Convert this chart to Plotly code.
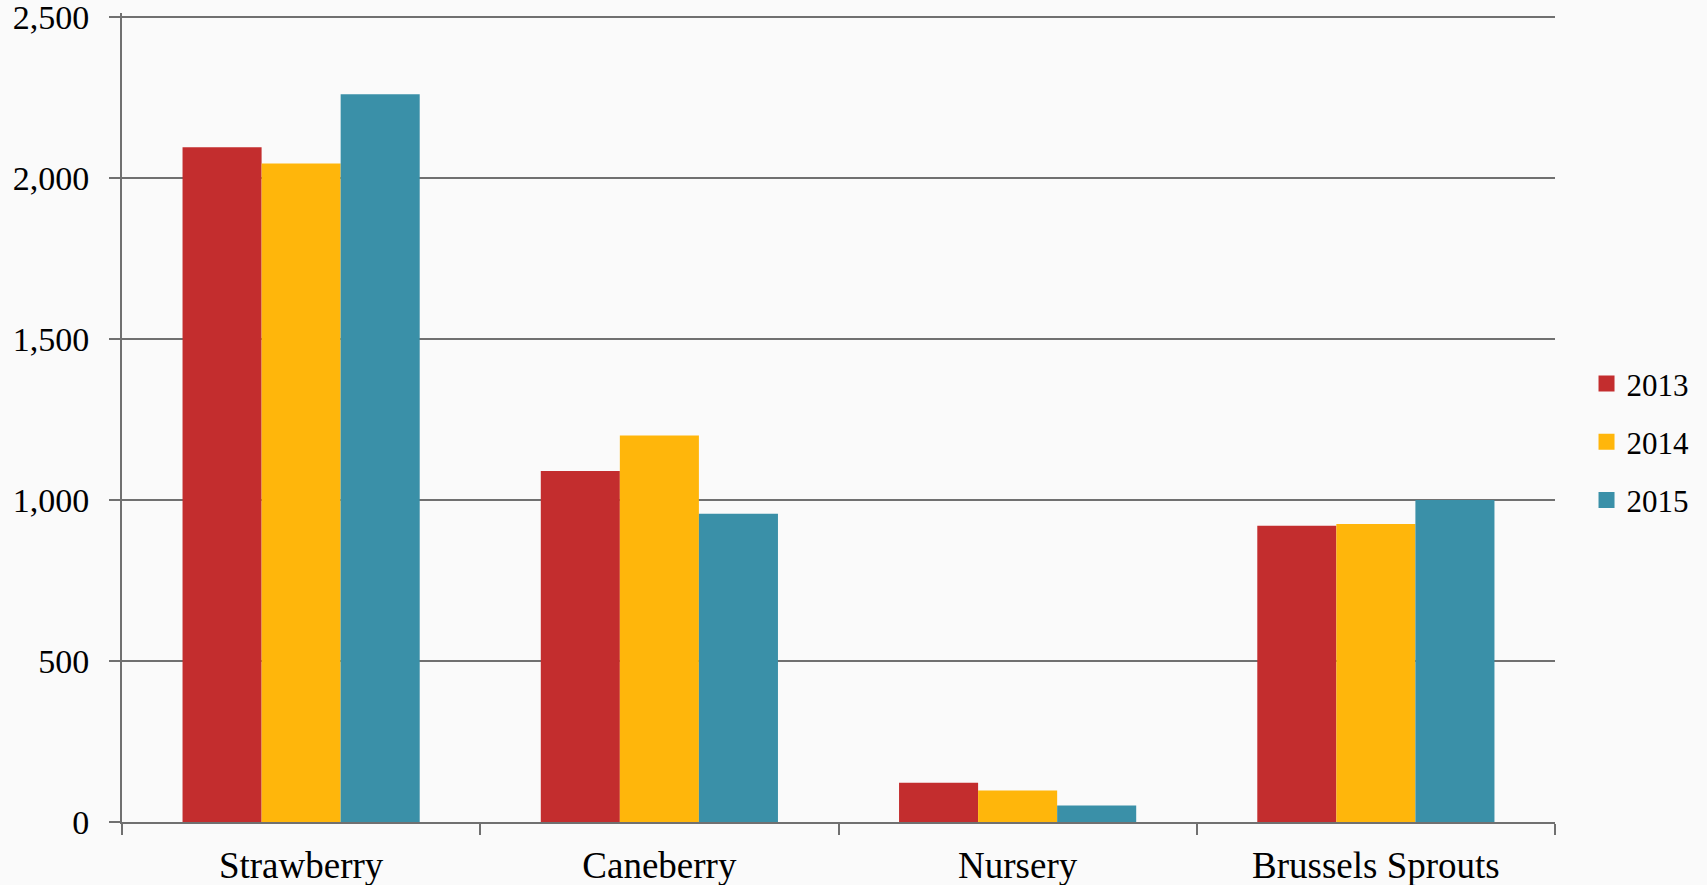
import plotly.graph_objects as go

categories = ["Strawberry", "Caneberry", "Nursery", "Brussels Sprouts"]
years = ["2013", "2014", "2015"]
values_2013 = [2095, 1090, 122, 920]
values_2014 = [2045, 1200, 98, 925]
values_2015 = [2260, 957, 51, 1000]
colors = ["#C32D2E", "#FFB60B", "#3A90A8"]
y_ticks = [0, 500, 1000, 1500, 2000, 2500]
y_tick_labels = ["0", "500", "1,000", "1,500", "2,000", "2,500"]

series = [values_2013, values_2014, values_2015]
FONT = "Liberation Serif"
BG = "#fafafa"

fig = go.Figure()
for name, vals, col in zip(years, series, colors):
    fig.add_trace(go.Bar(x=categories, y=vals, name=name, marker=dict(color=col, line=dict(width=0)),
                         showlegend=False))
# legend entries with larger square symbols
for name, col in zip(years, colors):
    fig.add_trace(go.Scatter(x=[None], y=[None], mode="markers", name=name, legendgroup=name,
                             marker=dict(symbol="square", size=22, color=col), showlegend=True))

fig.update_layout(
    width=1707, height=885,
    margin=dict(l=122, r=152, t=13, b=63, autoexpand=False),
    paper_bgcolor=BG, plot_bgcolor=BG,
    barmode="group", bargap=0.338, bargroupgap=0,
    font=dict(family=FONT, color="#000000"),
    legend=dict(x=1.022, y=0.47, xanchor="left", yanchor="middle", font=dict(size=31, family=FONT),
                tracegroupgap=15, itemwidth=30, bgcolor="rgba(0,0,0,0)"),
    xaxis=dict(type="category", showline=True, linecolor="#707070", linewidth=2,
               ticks="outside", tickson="boundaries", ticklen=11, tickwidth=2, tickcolor="#707070",
               tickfont=dict(size=37, family=FONT), showgrid=False, automargin=False,
               ticklabelstandoff=10),
    yaxis=dict(range=[0, 2512], tickvals=y_ticks, ticktext=y_tick_labels, showline=True,
               linecolor="#707070", linewidth=2, ticks="outside", ticklen=11, tickwidth=2,
               tickcolor="#707070", showgrid=True, gridcolor="#707070", gridwidth=2,
               zeroline=False, tickfont=dict(size=34, family=FONT), automargin=False,
               ticklabelstandoff=13, ticklabeloverflow="allow"),
)

fig.write_html("out.html", config={"displayModeBar": False},
               post_script="document.body.style.margin='0';document.body.style.background='%s';" % BG)
